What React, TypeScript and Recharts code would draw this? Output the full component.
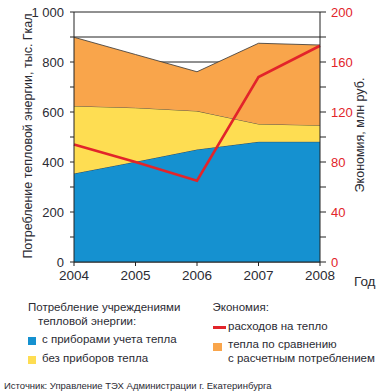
import React from 'react';
import { ComposedChart, Area, Line, XAxis, YAxis, CartesianGrid } from 'recharts';

const years = [2004, 2005, 2006, 2007, 2008];
const withMeters = [354, 401, 450, 481, 481];
const withoutMeters = [270, 216, 154, 71, 66];
const savingVsCalc = [275, 213, 157, 323, 321];
const savingCosts = [94, 80, 65, 148, 173];

const leftTicks = [0, 100, 200, 300, 400, 500, 600, 700, 800, 900, 1000];
const rightTicks = [0, 20, 40, 60, 80, 100, 120, 140, 160, 180, 200];

const data = years.map((y, i) => ({
  year: y,
  blue: withMeters[i],
  yellow: withoutMeters[i],
  orange: savingVsCalc[i],
  red: savingCosts[i],
}));

const FONT = '"Liberation Sans", Arial, sans-serif';
const TXT = '#2b2b33';
const BLUE = '#1591d0';
const YELLOW = '#fedd52';
const ORANGE = '#f9a54b';
const RED = '#e2242a';

const LeftTick = (props: any) => {
  const { x, y, payload } = props;
  const v = payload.value;
  if (v % 200 !== 0) return null;
  const label = v === 1000 ? '1 000' : String(v);
  return (
    <text x={x} y={y} dy="0.36em" textAnchor="end" fill={TXT} fontSize={13} fontFamily={FONT}>
      {label}
    </text>
  );
};

const RightTick = (props: any) => {
  const { x, y, payload } = props;
  const v = payload.value;
  if (v % 40 !== 0) return null;
  return (
    <text x={x} y={y} dy="0.36em" textAnchor="start" fill={RED} fontSize={13} fontFamily={FONT}>
      {String(v)}
    </text>
  );
};

const abs = (left: number, top: number, extra: React.CSSProperties = {}): React.CSSProperties => ({
  position: 'absolute',
  left,
  top,
  whiteSpace: 'nowrap',
  fontFamily: FONT,
  color: TXT,
  lineHeight: 1,
  ...extra,
});

export default function App() {
  return (
    <div style={{ position: 'absolute', left: 0, top: 0, width: 381, height: 391, background: '#fff', overflow: 'hidden' }}>
      <ComposedChart width={381} height={290} data={data} margin={{ top: 12, right: 0, left: 0, bottom: 0 }}>
        <CartesianGrid yAxisId="left" vertical={false} stroke="#222" strokeWidth={1} />
        <XAxis
          dataKey="year"
          type="number"
          domain={[2004, 2008]}
          ticks={years}
          height={28}
          tickSize={4}
          tickMargin={4}
          axisLine={{ stroke: '#222' }}
          tickLine={{ stroke: '#222' }}
          tick={{ fill: TXT, fontSize: 13.5, fontFamily: FONT }}
        />
        <YAxis
          yAxisId="left"
          orientation="left"
          width={74}
          domain={[0, 1000]}
          ticks={leftTicks}
          interval={0}
          tickSize={4}
          tickMargin={6}
          axisLine={{ stroke: '#222' }}
          tickLine={{ stroke: '#222' }}
          tick={LeftTick}
        />
        <YAxis
          yAxisId="right"
          orientation="right"
          width={61}
          domain={[0, 200]}
          ticks={rightTicks}
          interval={0}
          tickSize={6}
          tickMargin={5}
          axisLine={{ stroke: '#222' }}
          tickLine={{ stroke: '#222' }}
          tick={RightTick}
        />
        <Area yAxisId="left" type="linear" dataKey="blue" stackId="a" fill={BLUE} fillOpacity={1} stroke="#333" strokeWidth={0.8} isAnimationActive={false} />
        <Area yAxisId="left" type="linear" dataKey="yellow" stackId="a" fill={YELLOW} fillOpacity={1} stroke="#333" strokeWidth={0.8} isAnimationActive={false} />
        <Area yAxisId="left" type="linear" dataKey="orange" stackId="a" fill={ORANGE} fillOpacity={1} stroke="#333" strokeWidth={0.8} isAnimationActive={false} />
        <Line yAxisId="right" type="linear" dataKey="red" stroke={RED} strokeWidth={2.6} dot={false} isAnimationActive={false} />
      </ComposedChart>

      <div style={abs(28, 135.5, { fontSize: 12.5, transform: 'translate(-50%, -50%) rotate(-90deg)' })}>
        Потребление тепловой энергии, тыс. Гкал
      </div>
      <div style={abs(360, 135, { fontSize: 12.5, transform: 'translate(-50%, -50%) rotate(-90deg)' })}>
        Экономия, млн руб.
      </div>
      <div style={abs(354, 274.5, { fontSize: 13.5 })}>Год</div>

      <div style={abs(28, 301.5, { fontSize: 11.5 })}>Потребление учреждениями</div>
      <div style={abs(38, 315.5, { fontSize: 11.5 })}>тепловой энергии:</div>
      <div style={{ position: 'absolute', left: 28, top: 337, width: 8, height: 8, background: BLUE }} />
      <div style={abs(42, 333.5, { fontSize: 11.5 })}>с приборами учета тепла</div>
      <div style={{ position: 'absolute', left: 28, top: 356, width: 8, height: 8, background: YELLOW }} />
      <div style={abs(42, 352.5, { fontSize: 11.5 })}>без приборов тепла</div>

      <div style={abs(212.5, 301.5, { fontSize: 11.5 })}>Экономия:</div>
      <div style={{ position: 'absolute', left: 213, top: 326, width: 13, height: 3, background: RED }} />
      <div style={abs(228, 320.5, { fontSize: 11.5 })}>расходов на тепло</div>
      <div style={{ position: 'absolute', left: 213, top: 343, width: 9, height: 8, background: ORANGE }} />
      <div style={abs(228, 339, { fontSize: 11.5 })}>тепла по сравнению</div>
      <div style={abs(228, 352.5, { fontSize: 11.5 })}>с расчетным потреблением</div>

      <div style={abs(4, 381, { fontSize: 9.5 })}>Источник: Управление ТЭХ Администрации г. Екатеринбурга</div>
    </div>
  );
}
